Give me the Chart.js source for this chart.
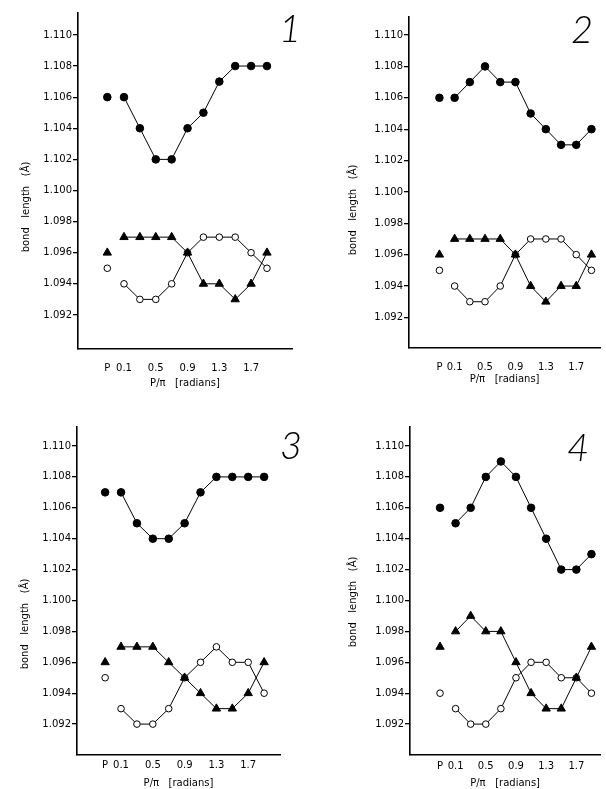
<!DOCTYPE html>
<html>
<head>
<meta charset="utf-8">
<script src="https://cdn.jsdelivr.net/npm/chart.js"></script>
<style>
  body { margin:0; background:#fff; width:606px; height:789px; position:relative; overflow:hidden; }
  canvas { position:absolute; }
</style>
</head>
<body>
<script>
// angle values (P/pi) along the curve, and the axis labels
const xVals = [0.1, 0.3, 0.5, 0.7, 0.9, 1.1, 1.3, 1.5, 1.7, 1.9]
const xTickVals = [0.1, 0.5, 0.9, 1.3, 1.7]
const yTickVals = [1.092, 1.094, 1.096, 1.098, 1.100, 1.102, 1.104, 1.106, 1.108, 1.110]
const panelNames = ["1", "2", "3", "4"]

// filled circles
const filled1 = [1.106, 1.104, 1.102, 1.102, 1.104, 1.105, 1.107, 1.108, 1.108, 1.108]
const filled2 = [1.106, 1.107, 1.108, 1.107, 1.107, 1.105, 1.104, 1.103, 1.103, 1.104]
const filled3 = [1.107, 1.105, 1.104, 1.104, 1.105, 1.107, 1.108, 1.108, 1.108, 1.108]
const filled4 = [1.105, 1.106, 1.108, 1.109, 1.108, 1.106, 1.104, 1.102, 1.102, 1.103]
// triangles
const tri1 = [1.097, 1.097, 1.097, 1.097, 1.096, 1.094, 1.094, 1.093, 1.094, 1.096]
const tri2 = [1.097, 1.097, 1.097, 1.097, 1.096, 1.094, 1.093, 1.094, 1.094, 1.096]
const tri3 = [1.097, 1.097, 1.097, 1.096, 1.095, 1.094, 1.093, 1.093, 1.094, 1.096]
const tri4 = [1.098, 1.099, 1.098, 1.098, 1.096, 1.094, 1.093, 1.093, 1.095, 1.097]
// open circles
const open1 = [1.094, 1.093, 1.093, 1.094, 1.096, 1.097, 1.097, 1.097, 1.096, 1.095]
const open2 = [1.094, 1.093, 1.093, 1.094, 1.096, 1.097, 1.097, 1.097, 1.096, 1.095]
const open3 = [1.093, 1.092, 1.092, 1.093, 1.095, 1.096, 1.097, 1.096, 1.096, 1.094]
const open4 = [1.093, 1.092, 1.092, 1.093, 1.095, 1.096, 1.096, 1.095, 1.095, 1.094]
// the lone "P" values, one per panel
const pFilled = [1.106, 1.106, 1.107, 1.106]
const pTri = [1.096, 1.096, 1.096, 1.097]
const pOpen = [1.095, 1.095, 1.095, 1.094]

const filled = [filled1, filled2, filled3, filled4]
const tri = [tri1, tri2, tri3, tri4]
const open = [open1, open2, open3, open4]

// where each panel sits on the page
const panels = [
  {left:0,   top:0,   h:394, area:{l:78,  t:13, r:292, b:349}, xMin:-0.479, xMax:2.215, pX:-0.11, yMin:1.08981, yMax:1.11141, tickPad:13, titlePad:5, yTitle:[26,207], num:[290,30]},
  {left:303, top:0,   h:394, area:{l:106, t:17, r:302, b:348}, xMin:-0.5,   xMax:2.015, pX:-0.10, yMin:1.09005, yMax:1.11115, tickPad:13, titlePad:9, yTitle:[50,210], num:[279,31]},
  {left:0,   top:394, h:395, area:{l:77,  t:33, r:280, b:361}, xMin:-0.454, xMax:2.1,   pX:-0.10, yMin:1.0900,  yMax:1.11123, tickPad:4,  titlePad:0, yTitle:[25,230], num:[291,53]},
  {left:303, top:394, h:395, area:{l:107, t:33, r:302, b:361}, xMin:-0.504, xMax:2.016, pX:-0.106, yMin:1.0900, yMax:1.11123, tickPad:5,  titlePad:0, yTitle:[50,208], num:[275,55]}
]

Chart.defaults.font.family = '"DejaVu Sans", sans-serif'
Chart.defaults.color = '#000'

const extras = {
  id: 'extras',
  afterDraw(chart, args, opts) {
    const ctx = chart.ctx
    ctx.save()
    ctx.fillStyle = '#000'
    ctx.font = '10px "DejaVu Sans"'
    ctx.textAlign = 'center'
    ctx.textBaseline = 'middle'
    ctx.translate(opts.yTitle[0], opts.yTitle[1])
    ctx.rotate(-Math.PI / 2)
    ctx.fillText('bond   length   (Å)', 0, 0)
    ctx.restore()
    ctx.save()
    ctx.fillStyle = '#000'
    ctx.font = 'italic 300 38px Lato'
    ctx.textAlign = 'center'
    ctx.textBaseline = 'middle'
    ctx.fillText(opts.name, opts.num[0], opts.num[1])
    ctx.restore()
  }
}

function pts(ys) {
  return xVals.map((x, k) => ({x: x, y: ys[k]}))
}

function makeChart(i) {
  const p = panels[i]
  const canvas = document.createElement('canvas')
  canvas.width = 303
  canvas.height = p.h
  canvas.style.left = p.left + 'px'
  canvas.style.top = p.top + 'px'
  document.body.append(canvas)

  const base = {borderColor:'#000', borderWidth:1, pointBorderColor:'#000', pointBorderWidth:1, showLine:true}
  new Chart(canvas, {
    type: 'scatter',
    data: {
      datasets: [
        {...base, data: pts(tri[i]), pointStyle:'triangle', pointRadius:4.8, pointBackgroundColor:'#000'},
        {...base, data: pts(open[i]), pointStyle:'circle', pointRadius:3.3, pointBackgroundColor:'#fff'},
        {...base, data: pts(filled[i]), pointStyle:'circle', pointRadius:3.8, pointBackgroundColor:'#000'},
        {...base, showLine:false, data:[{x:p.pX, y:pFilled[i]}], pointStyle:'circle', pointRadius:3.8, pointBackgroundColor:'#000'},
        {...base, showLine:false, data:[{x:p.pX, y:pTri[i]}], pointStyle:'triangle', pointRadius:4.8, pointBackgroundColor:'#000'},
        {...base, showLine:false, data:[{x:p.pX, y:pOpen[i]}], pointStyle:'circle', pointRadius:3.3, pointBackgroundColor:'#fff'}
      ]
    },
    options: {
      responsive: false,
      animation: false,
      events: [],
      layout: {padding: {left:0, top:p.area.t, right:303 - p.area.r, bottom:0}},
      plugins: {
        legend: {display:false},
        tooltip: {enabled:false},
        extras: {yTitle:p.yTitle, num:p.num, name:panelNames[i]}
      },
      scales: {
        x: {
          type: 'linear',
          min: p.xMin,
          max: p.xMax,
          afterBuildTicks: s => { s.ticks = [p.pX, ...xTickVals].map(v => ({value:v})) },
          afterFit: s => { s.height = p.h - p.area.b },
          ticks: {
            autoSkip:false, maxRotation:0, padding:p.tickPad, color:'#000', font:{size:10},
            callback: v => v === p.pX ? 'P' : v.toFixed(1)
          },
          grid: {drawOnChartArea:false, drawTicks:false},
          border: {color:'#000', width:1.6},
          title: {display:true, text:'P/π   [radians]', color:'#000', font:{size:10}, padding:{top:0, bottom:p.titlePad}}
        },
        y: {
          min: p.yMin,
          max: p.yMax,
          afterBuildTicks: s => { s.ticks = yTickVals.map(v => ({value:v})) },
          afterFit: s => { s.width = p.area.l },
          ticks: {
            autoSkip:false, padding:1, color:'#000', font:{size:10},
            callback: v => v.toFixed(3)
          },
          grid: {drawOnChartArea:false, drawTicks:true, tickLength:5, color:'#000', lineWidth:1.3},
          border: {color:'#000', width:1.6}
        }
      }
    },
    plugins: [extras]
  })
}

for (let i = 0; i < 4; i++) makeChart(i)
</script>
</body>
</html>
